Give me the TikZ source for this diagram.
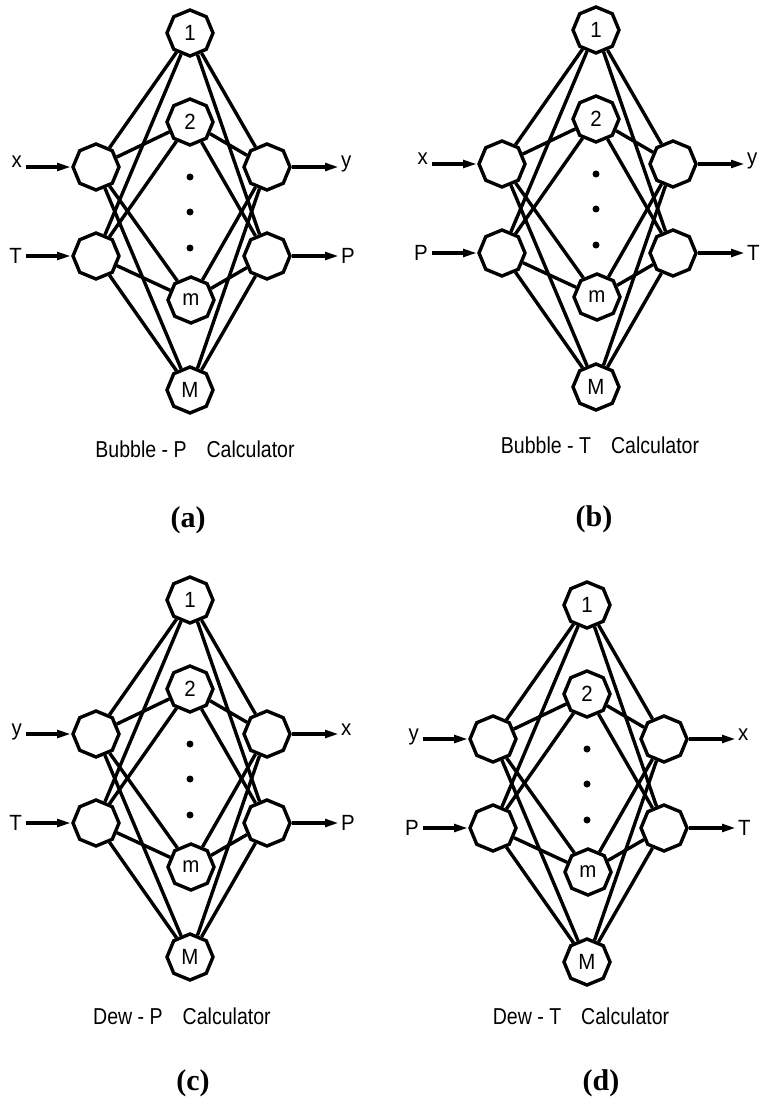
\documentclass[tikz,border=0pt]{standalone}
\usepackage{fontspec}
\setmainfont{Liberation Sans}
\newfontfamily\narrowsans[FakeStretch=0.85]{Liberation Sans}
\newfontfamily\lblsans[FakeStretch=0.93]{Liberation Sans}
\newfontfamily\figserif{Liberation Serif}
\usetikzlibrary{shapes.geometric,arrows.meta}
\tikzset{
  oct/.style={regular polygon, regular polygon sides=8, shape border rotate=22.5,
    minimum size=46pt, inner sep=0pt, draw, line width=3.4pt, fill=white,
    font=\lblsans\fontsize{22}{22}\selectfont},
  edge/.style={line width=3.4pt},
  arr/.style={line width=3.4pt, -{Triangle[length=14pt,width=7.5pt]}},
  iolbl/.style={font=\lblsans\fontsize{22}{22}\selectfont, inner sep=0pt},
  captext/.style={font=\narrowsans\fontsize{23}{23}\selectfont, inner sep=0pt},
  sublbl/.style={font=\figserif\bfseries\fontsize{30}{30}\selectfont, inner sep=0pt},
}
\newcommand{\capdx}{5}
\newcommand{\capdy}{416}
\newcommand{\subdx}{-2}
\newcommand{\subdy}{487}
% #1 ox, #2 oy, #3 prefix, #4 in1, #5 in2, #6 out1, #7 out2, #8 caption, #9 sub-label
\newcommand{\netpanel}[9]{%
\begin{scope}[shift={(#1,#2)}]
  \node[oct] (#3n1) at (0,0) {1};
  \node[oct] (#3n2) at (0,89) {2};
  \node[oct] (#3nm) at (1,267) {m};
  \node[oct] (#3nM) at (0,357) {M};
  \node[oct] (#3L1) at (-94,134) {};
  \node[oct] (#3L2) at (-94,223) {};
  \node[oct] (#3R1) at (77,134) {};
  \node[oct] (#3R2) at (77,223) {};
  \foreach \h in {n1,n2,nm,nM}{
    \draw[edge] (#3L1) -- (#3\h);
    \draw[edge] (#3L2) -- (#3\h);
    \draw[edge] (#3\h) -- (#3R1);
    \draw[edge] (#3\h) -- (#3R2);
  }
  \fill (0,144) circle (3.5pt);
  \fill (0,179) circle (3.5pt);
  \fill (0,215) circle (3.5pt);
  \coordinate (#3i1) at (-164,134);
  \coordinate (#3i2) at (-164,223);
  \coordinate (#3o1) at (149,134);
  \coordinate (#3o2) at (149,223);
  \draw[arr] (#3i1) -- (#3L1);
  \draw[arr] (#3i2) -- (#3L2);
  \draw[arr] (#3R1) -- (#3o1);
  \draw[arr] (#3R2) -- (#3o2);
  \node[iolbl, anchor=base east] (#3ti1) at (-168,135) {#4};
  \node[iolbl, anchor=base east] (#3ti2) at (-168,230) {#5};
  \node[iolbl, anchor=base west] (#3to1) at (151,135) {#6};
  \node[iolbl, anchor=base west] (#3to2) at (151,230) {#7};
  \node[captext] (#3cap) at (\capdx,\capdy) {#8};
  \node[sublbl] (#3sub) at (\subdx,\subdy) {#9};
\end{scope}}

\begin{document}
\begin{tikzpicture}[x=1pt,y=-1pt]
  \useasboundingbox (0,0) rectangle (761,1099);
  \renewcommand{\capdx}{5}\renewcommand{\capdy}{416}
  \renewcommand{\subdx}{-2}\renewcommand{\subdy}{487}
  \netpanel{190}{33}{a}{x}{T}{y}{P}{Bubble - P\hspace{20pt}Calculator}{(a)}
  \renewcommand{\capdx}{4}\renewcommand{\capdy}{415}
  \renewcommand{\subdx}{-2}\renewcommand{\subdy}{489}
  \netpanel{596}{30}{b}{x}{P}{y}{T}{Bubble - T\hspace{20pt}Calculator}{(b)}
  \renewcommand{\capdx}{-8}\renewcommand{\capdy}{416}
  \renewcommand{\subdx}{3}\renewcommand{\subdy}{483}
  \netpanel{190}{600}{c}{y}{T}{x}{P}{Dew - P\hspace{20pt}Calculator}{(c)}
  \renewcommand{\capdx}{-6}\renewcommand{\capdy}{411}
  \renewcommand{\subdx}{14}\renewcommand{\subdy}{478}
  \netpanel{587}{605}{d}{y}{P}{x}{T}{Dew - T\hspace{20pt}Calculator}{(d)}
\end{tikzpicture}
\end{document}
